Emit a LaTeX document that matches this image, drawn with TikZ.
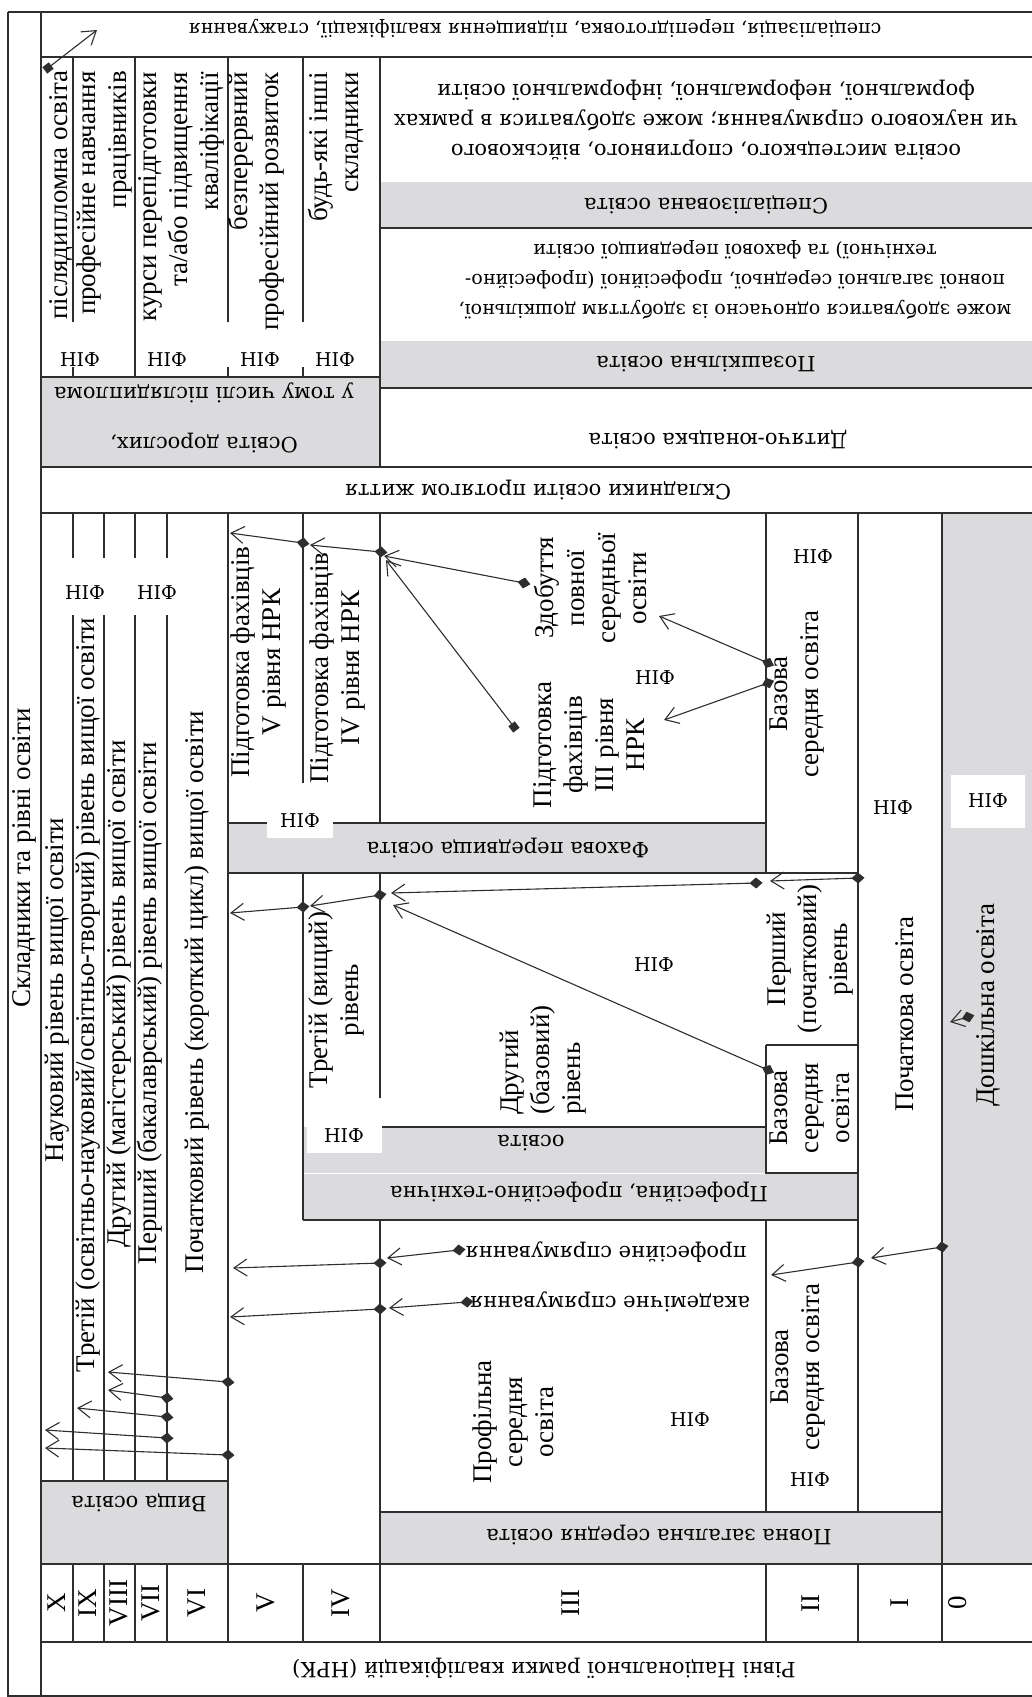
\documentclass[tikz,border=0pt]{standalone}
\usepackage{fontspec}
\setmainfont{Liberation Serif}
\newfontfamily\dejafont{DejaVu Serif}
\usetikzlibrary{arrows.meta}
\definecolor{BandClr}{rgb}{0.86,0.86,0.87}
\definecolor{RuleClr}{rgb}{0.18,0.18,0.18}
\newcommand\LblFont{\fontsize{27}{31}\selectfont}
\newcommand\InvFont{\dejafont\fontsize{21}{30}\selectfont}
\newcommand\NifFont{\dejafont\fontsize{19}{30}\selectfont}

\begin{document}
\begin{tikzpicture}[x=1pt,y=-1pt,
  rule/.style={line width=1.6pt,color=RuleClr},
  lbl/.style={rotate=90,font=\LblFont,align=center,inner sep=0pt},
  inv/.style={rotate=180,font=\InvFont,align=center,inner sep=0pt},
  nif/.style={font=\NifFont,inner sep=0pt},
  link/.style={line width=1.1pt,color=RuleClr,{Diamond[length=13pt,width=11pt]}-{Straight Barb[length=13pt,width=17pt]},shorten <=-6.5pt},
  sqlink/.style={line width=1.1pt,color=RuleClr,{Square[length=8pt,width=8pt]}-{Straight Barb[length=13pt,width=17pt]},shorten <=-4pt}]
\useasboundingbox (0,0) rectangle (1032,1697);

\fill[BandClr] (41,377) rectangle (380,467);
\fill[BandClr] (380,182) rectangle (1032,228);
\fill[BandClr] (380,341) rectangle (1032,388);
\fill[BandClr] (942,513) rectangle (1032,1564);
\fill[BandClr] (41,1481) rectangle (228,1564);
\fill[BandClr] (228,823) rectangle (766,873);
\fill[BandClr] (303,1127) -- (766,1127) -- (766,1173) -- (858,1173) -- (858,1220) -- (303,1220) -- cycle;
\fill[BandClr] (380,1512) rectangle (942,1564);
\draw[white,line width=1pt] (303,1173) -- (766,1173);

\draw[rule] (8,12) -- (1032,12) (8,12) -- (8,1696) -- (1032,1696) (41,12) -- (41,1696);
\draw[rule] (41,57) -- (1032,57) (41,467) -- (1032,467) (41,513) -- (1032,513)
  (41,1564) -- (1032,1564) (41,1642) -- (1032,1642);
\foreach \x in {73,104,135,167,228,303,380,766,858,942}
  \draw[rule] (\x,1564) -- (\x,1642);

\draw[rule] (380,57) -- (380,467) (41,377) -- (380,377) (135,57) -- (135,377);
\foreach \x in {73,228,303}
  \draw[rule] (\x,57) -- (\x,322) (\x,367) -- (\x,377);
\draw[rule] (380,228) -- (1032,228) (380,388) -- (1032,388);

\draw[rule] (228,513) -- (228,1564) (41,1481) -- (228,1481);
\foreach \x in {73,104,135,167}
  \draw[rule] (\x,513) -- (\x,558) (\x,615) -- (\x,1481);
\draw[rule] (303,513) -- (303,783) (380,513) -- (380,823);
\draw[rule] (228,823) -- (766,823) (228,873) -- (858,873) (766,513) -- (766,873);
\draw[rule] (858,513) -- (858,1512) (942,513) -- (942,1564);
\draw[rule] (303,873) -- (303,1220) (380,873) -- (380,1098);
\draw[rule] (382,1127) -- (766,1127) (766,1045) -- (858,1045) (766,1045) -- (766,1173) -- (858,1173)
  (303,1220) -- (858,1220);
\draw[rule] (380,1220) -- (380,1564) (766,1220) -- (766,1512) (380,1512) -- (942,1512);

\node[nif,fill=white,minimum width=66pt,minimum height=33pt] (nifF) at (300,821) {НІФ};
\node[nif,fill=white,minimum width=75pt,minimum height=33pt] (nifP) at (344,1136) {НІФ};
\node[nif,fill=white,minimum width=74pt,minimum height=53pt] (nif0) at (988,801) {НІФ};

\node[lbl] (title) at (24,858) {Складники та рівні освіти};
\node[inv,font=\NifFont] (top) at (535,29) {спеціалізація, перепідготовка, підвищення кваліфікації, стажування};
\node[inv] (nrk) at (544,1668) {Рівні Національної рамки кваліфікацій (НРК)};

\node[lbl,anchor=east] (pdo) at (61,70) {післядипломна освіта};
\node[lbl,anchor=east,align=right] (pnp) at (105,71) {професійне навчання\\працівників};
\node[lbl,anchor=east,align=right] (kurs) at (181,72) {курси перепідготовки\\та/або підвищення\\кваліфікації};
\node[lbl,anchor=east,align=right] (bpr) at (256,72) {безперервний\\професійний розвиток};
\node[lbl,anchor=east,align=right] (inshi) at (336,72) {будь-які інші\\складники};
\foreach \x/\n in {80/n1,167/n2,260/n3,335/n4}
  \node[nif] (\n) at (\x,360) {НІФ};
\node[inv] (dor) at (204,418) {Освіта дорослих,\\[20pt]у тому числі післядиплома};

\node[inv] (spec) at (706,120) {освіта мистецького, спортивного, військового\\чи наукового спрямування; може здобуватися в рамках\\формальної, неформальної, інформальної освіти};
\node[inv] (spech) at (706,205) {Спеціалізована освіта};
\node[inv,font=\NifFont] (pozt) at (735,280) {може здобуватися одночасно із здобуттям дошкільної,\\повної загальної середньої, професійної (професійно-\\технічної) та фахової передвищої освіти};
\node[inv] (poz) at (706,364) {Позашкільна освіта};
\node[inv] (dyt) at (718,440) {Дитячо-юнацька освіта};
\node[inv] (life) at (538,490) {Складники освіти протягом життя};

\node[lbl] (nauk) at (57,990) {Науковий рівень вищої освіти};
\node[lbl] (tret) at (88,995) {Третій (освітньо-науковий/освітньо-творчий) рівень вищої освіти};
\node[lbl] (magi) at (119,994) {Другий (магістерський) рівень вищої освіти};
\node[lbl] (baka) at (150,1003) {Перший (бакалаврський) рівень вищої освіти};
\node[lbl] (kor) at (197,992) {Початковий рівень (короткий цикл) вищої освіти};
\node[nif] (n5) at (85,593) {НІФ};
\node[nif] (n6) at (157,593) {НІФ};
\node[inv] (vyshcha) at (139,1503) {Вища освіта};

\node[lbl] (f5) at (259,662) {Підготовка фахівців\\V рівня НРК};
\node[lbl] (f4) at (338,668) {Підготовка фахівців\\IV рівня НРК};
\node[inv] (fah) at (508,848) {Фахова передвища освіта};
\node[lbl] (zd) at (590,588) {Здобуття\\повної\\середньої\\освіти};
\node[lbl] (f3) at (589,745) {Підготовка\\фахівців\\III рівня\\НРК};
\node[nif] (n7) at (655,678) {НІФ};
\node[nif] (n8) at (813,557) {НІФ};
\node[lbl] (baz1) at (797,694) {Базова\\середня освіта};
\node[nif] (n9) at (893,808) {НІФ};
\node[lbl] (pochos) at (905,1014) {Початкова освіта};
\node[lbl] (dosh) at (988,1005) {Дошкільна освіта};

\node[lbl] (tv) at (337,1000) {Третій (вищий)\\рівень};
\node[lbl,anchor=west,align=left] (db) at (543,1115) {Другий\\(базовий)\\рівень};
\node[nif] (n10) at (654,965) {НІФ};
\node[lbl] (pp) at (810,959) {Перший\\(початковий)\\рівень};
\node[lbl] (baz2) at (810,1108) {Базова\\середня\\освіта};
\node[inv] (pt1) at (531,1143) {освіта};
\node[inv] (pt2) at (579,1192) {Професійна, професійно-технічна};

\node[inv] (psp) at (606,1252) {професійне спрямування};
\node[inv] (asp) at (610,1302) {академічне спрямування};
\node[lbl] (prof) at (513,1422) {Профільна\\середня\\освіта};
\node[nif] (n11) at (690,1420) {НІФ};
\node[lbl] (baz3) at (798,1367) {Базова\\середня освіта};
\node[nif] (n12) at (810,1480) {НІФ};
\node[inv] (povna) at (659,1535) {Повна загальна середня освіта};

\foreach \x/\r in {57/X,88/IX,119/VIII,151/VII,197/VI,266/V,341/IV,571/III,811/II,900/I,958/0}
  \node[lbl] (r\r) at (\x,1603) {\r};

\coordinate (a1) at (303,543); \coordinate (a1t) at (230,533);
\coordinate (a2) at (381,552); \coordinate (a2t) at (310,545);
\coordinate (a3) at (524,583); \coordinate (a3t) at (384,556);
\coordinate (a4) at (514,727); \coordinate (a4t) at (386,560);
\coordinate (a5) at (768,663); \coordinate (a5t) at (659,616);
\coordinate (a6) at (768,683); \coordinate (a6t) at (664,720);
\coordinate (b1) at (858,878); \coordinate (b1t) at (770,881);
\coordinate (b2) at (756,883); \coordinate (b2t) at (391,893);
\coordinate (b3) at (768,1070); \coordinate (b3t) at (393,905);
\coordinate (b4) at (380,895); \coordinate (b4t) at (310,906);
\coordinate (b5) at (303,907); \coordinate (b5t) at (230,913);
\coordinate (c1) at (942,1247); \coordinate (c1t) at (871,1258);
\coordinate (c2) at (858,1262); \coordinate (c2t) at (771,1275);
\coordinate (c3) at (459,1250); \coordinate (c3t) at (387,1258);
\coordinate (c4) at (380,1263); \coordinate (c4t) at (233,1268);
\coordinate (c5) at (467,1302); \coordinate (c5t) at (389,1308);
\coordinate (c6) at (380,1309); \coordinate (c6t) at (230,1317);
\coordinate (d1) at (228,1382); \coordinate (d1t) at (108,1372);
\coordinate (d2) at (167,1398); \coordinate (d2t) at (108,1390);
\coordinate (d3) at (167,1417); \coordinate (d3t) at (77,1408);
\coordinate (d4) at (167,1438); \coordinate (d4t) at (45,1430);
\coordinate (d5) at (228,1455); \coordinate (d5t) at (45,1448);
\coordinate (e1) at (48,68); \coordinate (e1t) at (97,30);
\coordinate (e2) at (968,1017); \coordinate (e2t) at (950,1022);

\foreach \s/\t in {a1/a1t,a2/a2t,a3/a3t,a5/a5t,a6/a6t,b1/b1t,b2/b2t,b3/b3t,b4/b4t,b5/b5t,
  c1/c1t,c2/c2t,c3/c3t,c4/c4t,c5/c5t,c6/c6t,d1/d1t,d2/d2t,d3/d3t,d4/d4t,d5/d5t,e2/e2t}
  \draw[link] (\s) -- (\t);
\draw[sqlink] (a4) -- (a4t);
\draw[sqlink] (e1) -- (e1t);

\end{tikzpicture}
\end{document}
